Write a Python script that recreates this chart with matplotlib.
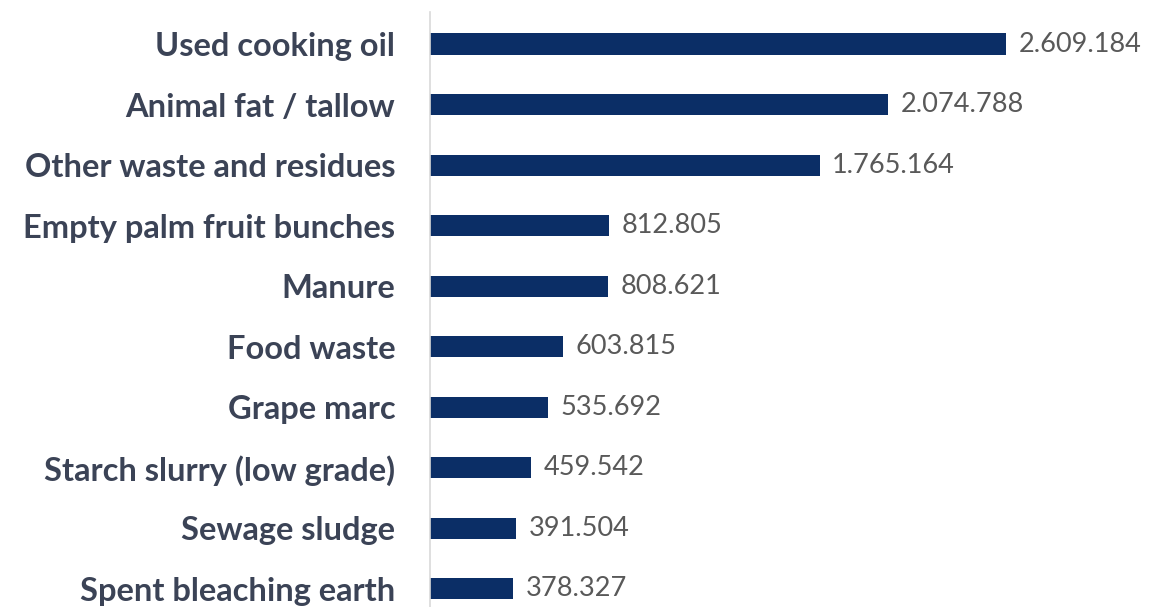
import matplotlib
matplotlib.use("Agg")
import matplotlib.pyplot as plt

# Data
categories = [
    "Used cooking oil",
    "Animal fat / tallow",
    "Other waste and residues",
    "Empty palm fruit bunches",
    "Manure",
    "Food waste",
    "Grape marc",
    "Starch slurry (low grade)",
    "Sewage sludge",
    "Spent bleaching earth",
]
values = [2609184, 2074788, 1765164, 812805, 808621, 603815, 535692, 459542, 391504, 378327]
value_labels = ["2.609.184", "2.074.788", "1.765.164", "812.805", "808.621",
                "603.815", "535.692", "459.542", "391.504", "378.327"]

bar_color = "#0b2e66"
label_color = "#3b4356"
value_color = "#595959"

fig = plt.figure(figsize=(11.7, 6.07), dpi=100)
ax = fig.add_axes([430 / 1170, 0, 1 - 430 / 1170, 1 - 12 / 607])

y = list(range(len(categories)))
ax.barh(y, values, height=0.35, color=bar_color)

ax.set_xlim(0, 3.353e6)
ax.set_ylim(9.3, -0.53)

ax.set_yticks(y)
ax.set_yticklabels(categories, fontsize=23.5, fontweight="bold", color=label_color,
                   family=["Lato", "DejaVu Sans"])
ax.tick_params(axis="y", length=0, pad=25)
ax.set_xticks([])

for s in ["top", "right", "bottom"]:
    ax.spines[s].set_visible(False)
ax.spines["left"].set_color("#d9d9d9")
ax.spines["left"].set_linewidth(1.2)

for yi, v, lab in zip(y, values, value_labels):
    ax.annotate(lab, (v, yi), xytext=(9, 0), textcoords="offset points",
                va="center", ha="left", fontsize=19.5, color=value_color,
                family=["Lato", "DejaVu Sans"])

fig.savefig("out.png", dpi=100)
